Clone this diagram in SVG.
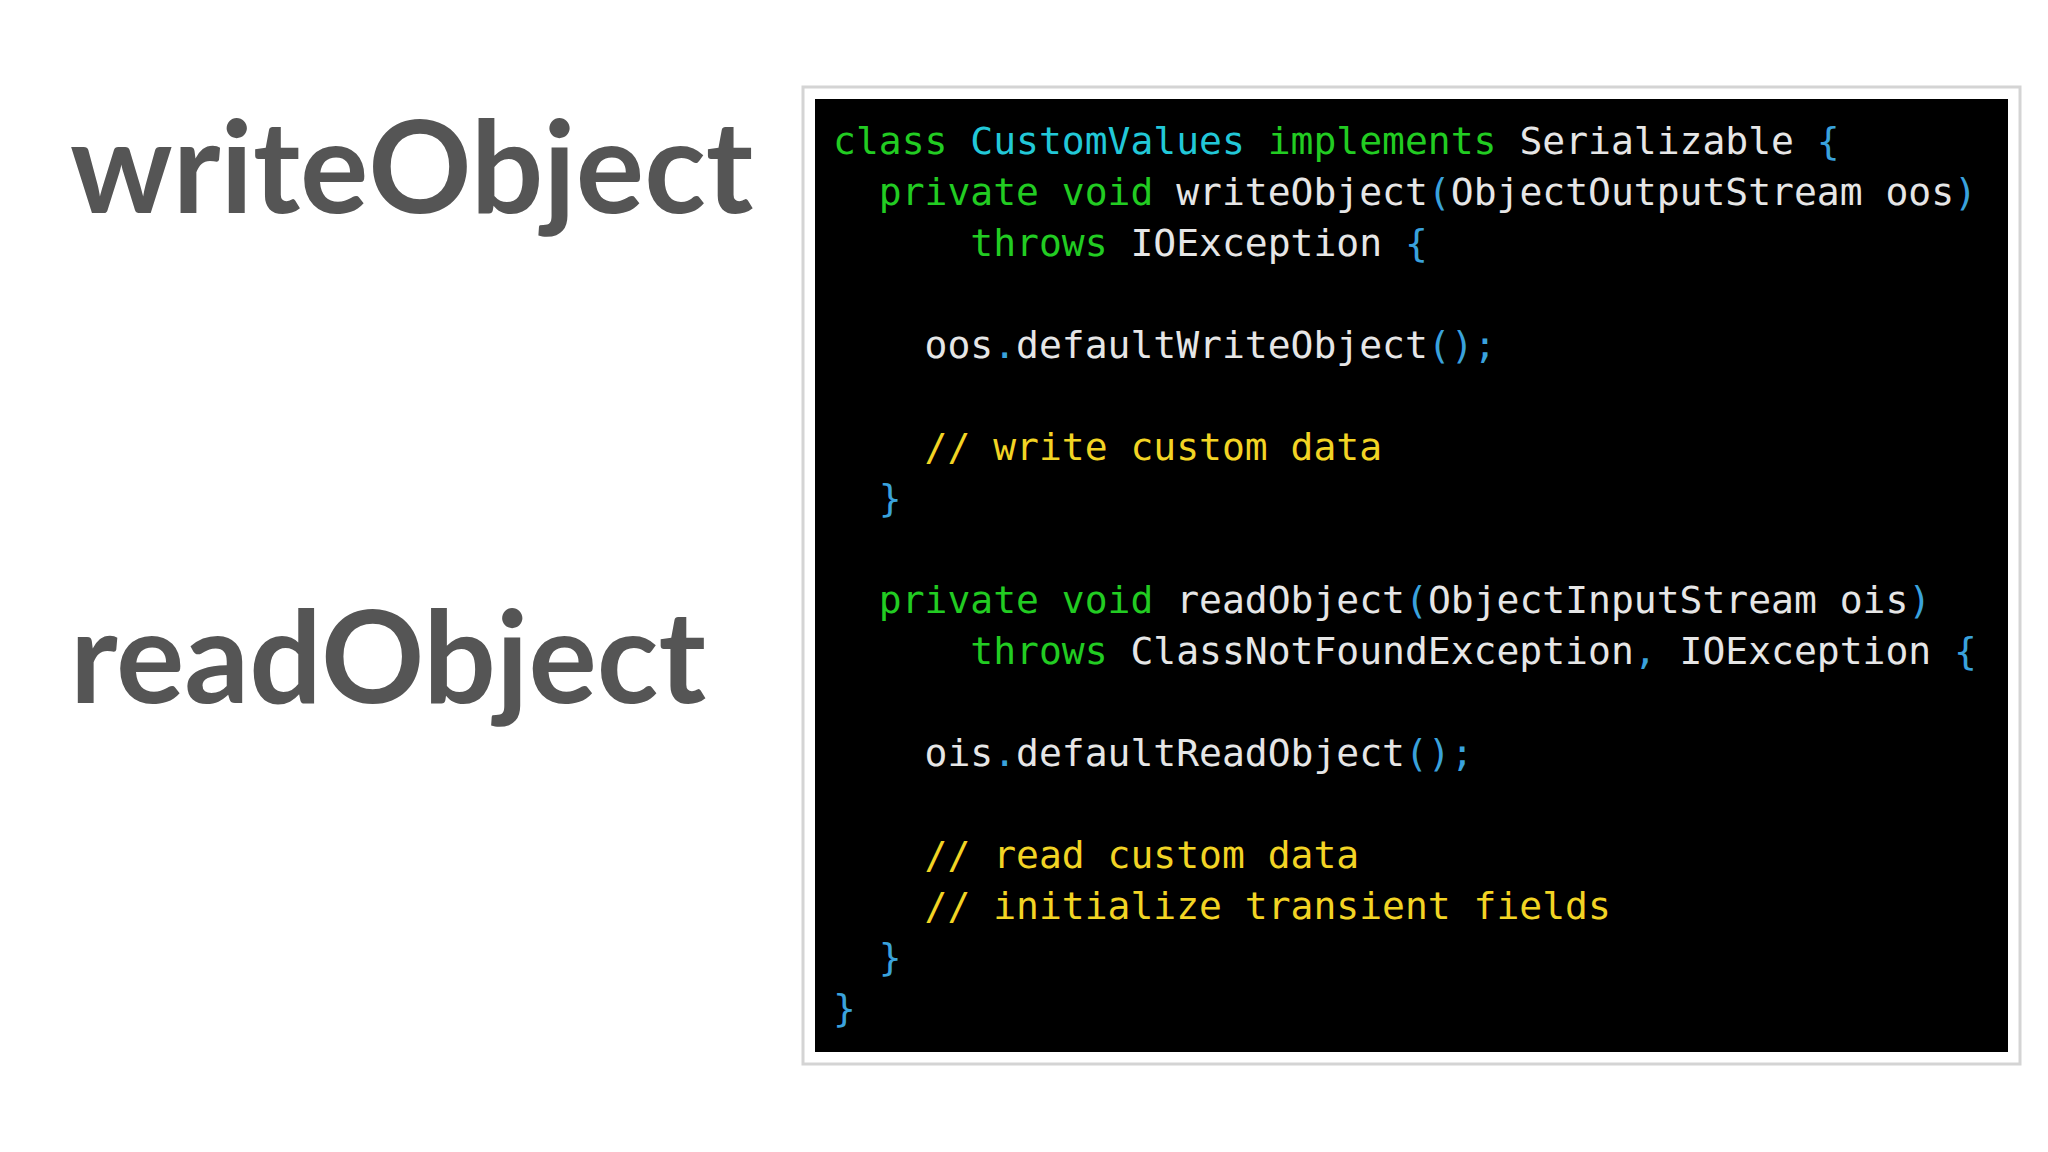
<svg xmlns="http://www.w3.org/2000/svg" width="2048" height="1152" viewBox="0 0 2048 1152">
<style>
.t{font-family:"Lato","Noto Sans",sans-serif;font-weight:bold;font-size:128px;fill:#555555}
.c{font-family:"DejaVu Sans Mono","Liberation Mono",monospace;font-size:38px;fill:#e6e6e6;white-space:pre}
.k{fill:#22cc22}.n{fill:#22c8d8}.p{fill:#3aa2dc}.y{fill:#f2d424}
</style>
<rect width="2048" height="1152" fill="#ffffff"/>
<g id="writeObject"><text class="t" x="70" y="213">writeObject</text></g>
<g id="readObject"><text class="t" x="70" y="703">readObject</text></g>
<g id="code">
<rect x="803" y="87" width="1217" height="977" fill="#ffffff" stroke="#d4d4d4" stroke-width="3"/>
<rect x="815" y="99" width="1193" height="953" fill="#000000"/>
<text class="c" xml:space="preserve" x="833" y="154"><tspan class="k">class</tspan> <tspan class="n">CustomValues</tspan> <tspan class="k">implements</tspan> Serializable <tspan class="p">{</tspan></text>
<text class="c" xml:space="preserve" x="833" y="205">  <tspan class="k">private void</tspan> writeObject<tspan class="p">(</tspan>ObjectOutputStream oos<tspan class="p">)</tspan></text>
<text class="c" xml:space="preserve" x="833" y="256">      <tspan class="k">throws</tspan> IOException <tspan class="p">{</tspan></text>
<text class="c" xml:space="preserve" x="833" y="358">    oos<tspan class="p">.</tspan>defaultWriteObject<tspan class="p">();</tspan></text>
<text class="c y" xml:space="preserve" x="833" y="460">    // write custom data</text>
<text class="c p" xml:space="preserve" x="833" y="511">  }</text>
<text class="c" xml:space="preserve" x="833" y="613">  <tspan class="k">private void</tspan> readObject<tspan class="p">(</tspan>ObjectInputStream ois<tspan class="p">)</tspan></text>
<text class="c" xml:space="preserve" x="833" y="664">      <tspan class="k">throws</tspan> ClassNotFoundException<tspan class="p">,</tspan> IOException <tspan class="p">{</tspan></text>
<text class="c" xml:space="preserve" x="833" y="766">    ois<tspan class="p">.</tspan>defaultReadObject<tspan class="p">();</tspan></text>
<text class="c y" xml:space="preserve" x="833" y="868">    // read custom data</text>
<text class="c y" xml:space="preserve" x="833" y="919">    // initialize transient fields</text>
<text class="c p" xml:space="preserve" x="833" y="970">  }</text>
<text class="c p" xml:space="preserve" x="833" y="1021">}</text>
</g>
</svg>
